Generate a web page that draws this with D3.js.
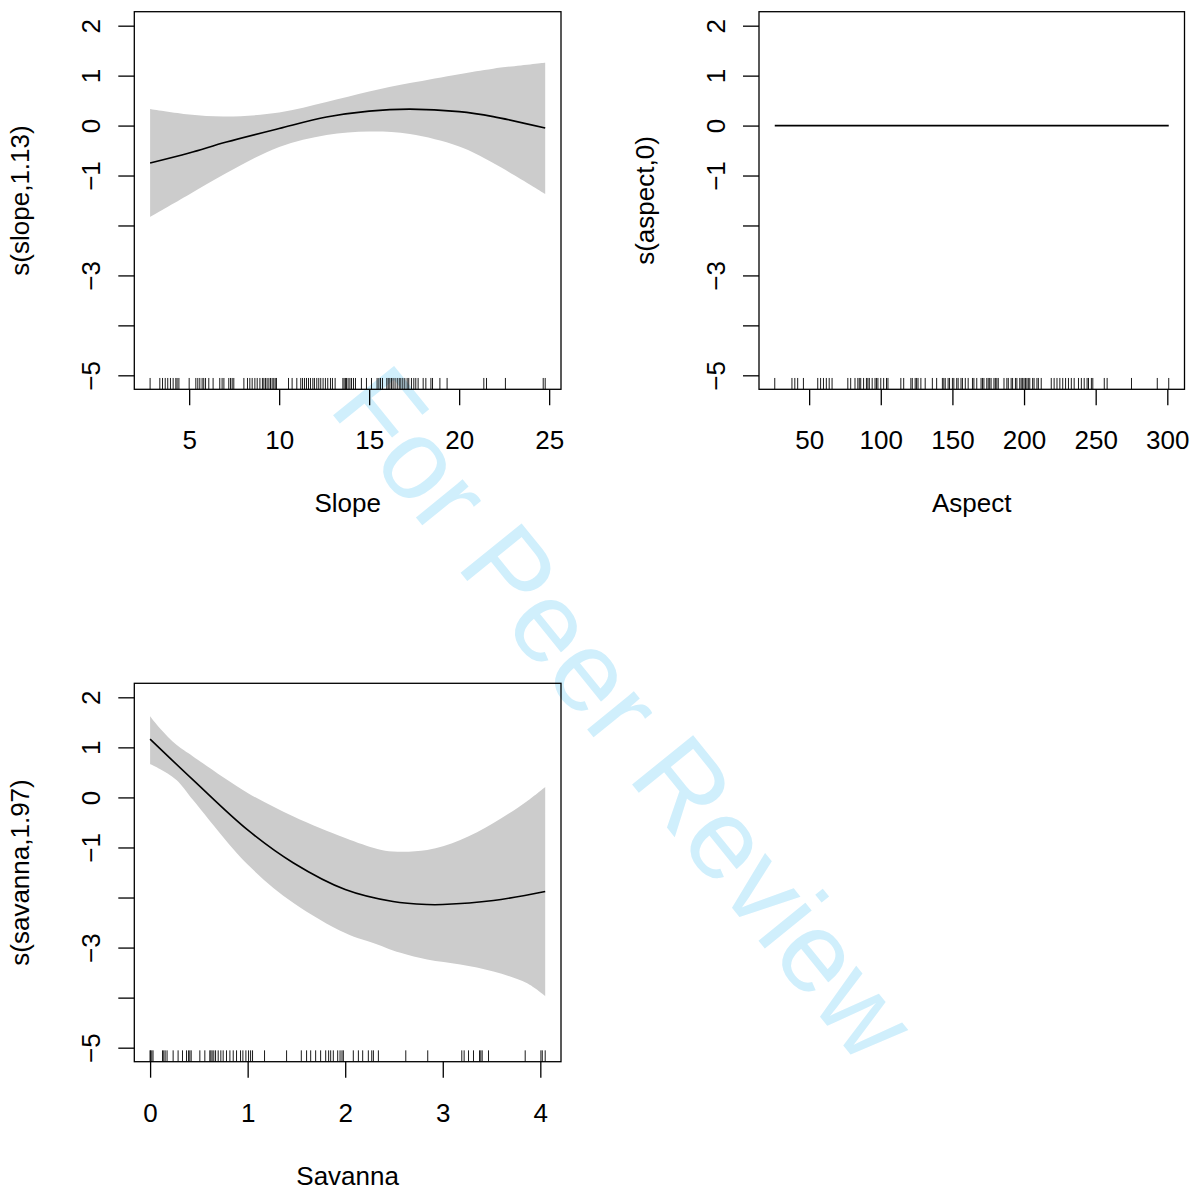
<!DOCTYPE html>
<html>
<head>
<meta charset="utf-8">
<script src="https://cdn.jsdelivr.net/npm/d3@7"></script>
<style>
  html, body { margin: 0; padding: 0; background: #fff; }
  svg { display: block; font-family: "Liberation Sans", Arial, Helvetica, sans-serif; }
</style>
</head>
<body>
<svg id="chart" width="1194" height="1191"></svg>
<script>
// ── Data ──────────────────────────────────────────────────────────────────────

const yTicks      = [2, 1, 0, -1, -2, -3, -4, -5];
const yTickShown  = [2, 1, 0, -1, -3, -5];   // R drops the overlapping ones

// slope smooth (edf 1.13)
const slopeX     = [2.83, 5, 7.07, 10, 12.63, 15, 17.26, 20, 21.89, 24.78];
const slopeFit   = [-0.75, -0.55, -0.33, -0.06, 0.17, 0.29, 0.33, 0.28, 0.18, -0.05];
const slopeUpper = [0.33, 0.22, 0.18, 0.26, 0.47, 0.68, 0.85, 1.03, 1.14, 1.26];
const slopeLower = [-1.83, -1.38, -0.95, -0.43, -0.19, -0.12, -0.17, -0.42, -0.75, -1.37];
const slopeTicks = [5, 10, 15, 20, 25];
const slopeRug = [
  2.83, 3.37, 3.52, 3.67, 3.81, 3.96, 4.11, 4.26, 4.33, 4.43, 5.0, 5.37, 5.48, 5.59,
  5.72, 5.81, 5.91, 6.09, 6.33, 6.70, 6.83, 6.93, 7.20, 7.30, 7.39, 7.48, 8.04, 8.24,
  8.37, 8.50, 8.65, 8.78, 8.93, 9.07, 9.15, 9.24, 9.33, 9.43, 9.52, 9.61, 9.70, 9.78,
  9.85, 10.52, 10.72, 10.98, 11.20, 11.30, 11.41, 11.52, 11.63, 11.74, 11.87, 11.96,
  12.09, 12.20, 12.31, 12.44, 12.57, 12.70, 12.85, 12.96, 13.11, 13.54, 13.61, 13.69,
  13.74, 13.83, 13.93, 14.02, 14.13, 14.24, 14.57, 14.85, 15.13, 15.44, 15.54, 15.63,
  15.74, 15.98, 16.06, 16.15, 16.24, 16.33, 16.44, 16.56, 16.67, 16.76, 16.87, 16.98,
  17.11, 17.20, 17.35, 17.48, 17.59, 17.72, 18.0, 18.15, 18.43, 18.52, 18.93, 19.33,
  21.37, 21.52, 22.57, 24.67, 24.78
];

// aspect smooth (edf 0, flat at zero)
const aspectFit   = 0;
const aspectTicks = [50, 100, 150, 200, 250, 300];
const aspectRug = [
  26, 38, 40, 42, 46, 56, 58, 60, 62, 64, 66, 77, 79, 82, 84, 85, 86, 88, 90, 91, 92,
  94, 96, 97, 98, 100, 102, 104, 105, 114, 116, 121, 122, 124, 125, 126, 128, 131, 136,
  139, 143, 144, 145, 147, 148, 150, 151, 153, 154, 156, 157, 159, 161, 164, 165, 167,
  170, 171, 172, 174, 175, 176, 177, 179, 180, 181, 182, 186, 188, 189, 191, 192, 194,
  195, 197, 198, 199, 200, 201, 202, 203, 204, 206, 207, 209, 210, 212, 219, 221, 223,
  225, 227, 229, 231, 233, 235, 238, 240, 242, 244, 245, 247, 248, 256, 258, 275, 293, 301
];

// savanna smooth (edf 1.97)
const savannaFitX  = [0, 0.44, 1.0, 1.47, 2.0, 2.49, 2.84, 3.0, 3.52, 4.05];
const savannaFit   = [1.165, 0.35, -0.65, -1.31, -1.84, -2.08, -2.14, -2.14, -2.06, -1.88];
const savannaBandX = [0, 0.1, 0.27, 0.44, 1.0, 1.47, 2.0, 2.33, 2.49, 2.84, 3.18, 3.52, 3.86, 4.05];
const savannaUpper = [1.62, 1.38, 1.05, 0.82, 0.09, -0.38, -0.81, -1.03, -1.08, -1.05, -0.85, -0.51, -0.08, 0.21];
const savannaLower = [0.67, 0.57, 0.35, -0.05, -1.34, -2.11, -2.71, -2.94, -3.06, -3.24, -3.34, -3.48, -3.71, -3.97];
const savannaTicks = [0, 1, 2, 3, 4];
const savannaRug = [
  0, 0.003, 0.017, 0.03, 0.127, 0.14, 0.154, 0.174, 0.236, 0.287, 0.332, 0.373, 0.393,
  0.407, 0.421, 0.51, 0.561, 0.612, 0.623, 0.636, 0.653, 0.671, 0.698, 0.725, 0.749,
  0.783, 0.818, 0.852, 0.886, 0.927, 0.951, 0.982, 1.009, 1.03, 1.05, 1.173, 1.399,
  1.55, 1.604, 1.646, 1.697, 1.748, 1.8, 1.83, 1.851, 1.878, 1.923, 1.947, 1.967, 1.981,
  2.083, 2.135, 2.179, 2.237, 2.272, 2.289, 2.34, 2.621, 2.846, 3.195, 3.219, 3.264,
  3.315, 3.377, 3.39, 3.404, 3.469, 3.845, 4.006, 4.02, 4.05
];

// ── Setup ─────────────────────────────────────────────────────────────────────

const svg  = d3.select('#chart');
const FONT = 26;
const smooth = d3.curveCatmullRom.alpha(0.5);

// watermark sits underneath everything
svg.append('text')
  .attr('transform', 'translate(625,713) rotate(51)')
  .attr('text-anchor', 'middle')
  .attr('dominant-baseline', 'central')
  .style('font-size', '114px')
  .style('fill', '#d0effc')
  .text('For Peer Review');

// R's axis range padding: 4% on each side
function padded(ext) {
  const d = (ext[1] - ext[0]) * 0.04;
  return [ext[0] - d, ext[1] + d];
}

function drawPanel(p) {
  const g = svg.append('g').attr('transform', `translate(${p.left},${p.top})`);

  const x = d3.scaleLinear().domain(padded(d3.extent(p.rug))).range([0, p.width]);
  const y = d3.scaleLinear().domain(padded([-5, 2])).range([p.height, 0]);

  // confidence band
  if (p.bandX) {
    const band = p.bandX.map((v, i) => ({ x: v, lo: p.lower[i], hi: p.upper[i] }));
    g.append('path')
      .datum(band)
      .attr('d', d3.area().curve(smooth)
        .x(d => x(d.x)).y0(d => y(d.lo)).y1(d => y(d.hi)))
      .style('fill', '#cccccc')
      .style('stroke', 'none');
  }

  // fitted smooth
  const fit = p.fitX.map((v, i) => ({ x: v, y: p.fit[i] }));
  g.append('path')
    .datum(fit)
    .attr('d', d3.line().curve(smooth).x(d => x(d.x)).y(d => y(d.y)))
    .style('fill', 'none')
    .style('stroke', '#000')
    .style('stroke-width', 1.6);

  // rug
  const rugLen = p.height * 0.03;
  g.selectAll('.rug')
    .data(p.rug)
    .join('line')
    .attr('class', 'rug')
    .attr('x1', d => x(d)).attr('x2', d => x(d))
    .attr('y1', p.height).attr('y2', p.height - rugLen)
    .style('stroke', '#000')
    .style('stroke-width', 0.9);

  // box
  g.append('rect')
    .attr('width', p.width).attr('height', p.height)
    .style('fill', 'none').style('stroke', '#000').style('stroke-width', 1.3);

  // x axis
  const xa = g.append('g')
    .attr('transform', `translate(0,${p.height})`)
    .call(d3.axisBottom(x).tickValues(p.ticks).tickSize(16).tickFormat(d3.format('d')));
  xa.select('.domain').remove();
  xa.selectAll('line').style('stroke-width', 1.3);
  xa.selectAll('text')
    .attr('y', 60).attr('dy', null)
    .style('font-size', FONT + 'px').style('fill', '#000');

  // y axis, labels rotated like R's las = 0
  const ya = g.append('g')
    .call(d3.axisLeft(y).tickValues(yTicks).tickSize(16)
      .tickFormat(d => yTickShown.includes(d) ? d3.format('d')(d) : ''));
  ya.select('.domain').remove();
  ya.selectAll('line').style('stroke-width', 1.3);
  ya.selectAll('text')
    .attr('x', null).attr('dy', null)
    .attr('transform', 'translate(-34,0) rotate(-90)')
    .attr('text-anchor', 'middle')
    .style('font-size', FONT + 'px').style('fill', '#000');

  // axis titles
  g.append('text')
    .attr('x', p.width / 2).attr('y', p.height + 123)
    .attr('text-anchor', 'middle')
    .style('font-size', FONT + 'px')
    .text(p.xlab);

  g.append('text')
    .attr('transform', `translate(-105,${p.height / 2}) rotate(-90)`)
    .attr('text-anchor', 'middle')
    .style('font-size', FONT + 'px')
    .text(p.ylab);
}

// ── Panels ────────────────────────────────────────────────────────────────────

drawPanel({
  left: 134.3, top: 11.7, width: 426.7, height: 377.6,
  fitX: slopeX, fit: slopeFit, bandX: slopeX, upper: slopeUpper, lower: slopeLower,
  rug: slopeRug, ticks: slopeTicks, xlab: 'Slope', ylab: 's(slope,1.13)'
});

drawPanel({
  left: 759, top: 11.7, width: 425.5, height: 377.6,
  fitX: d3.extent(aspectRug), fit: [aspectFit, aspectFit],
  rug: aspectRug, ticks: aspectTicks, xlab: 'Aspect', ylab: 's(aspect,0)'
});

drawPanel({
  left: 134.3, top: 683.3, width: 426.7, height: 378.4,
  fitX: savannaFitX, fit: savannaFit, bandX: savannaBandX, upper: savannaUpper, lower: savannaLower,
  rug: savannaRug, ticks: savannaTicks, xlab: 'Savanna', ylab: 's(savanna,1.97)'
});
</script>
</body>
</html>
